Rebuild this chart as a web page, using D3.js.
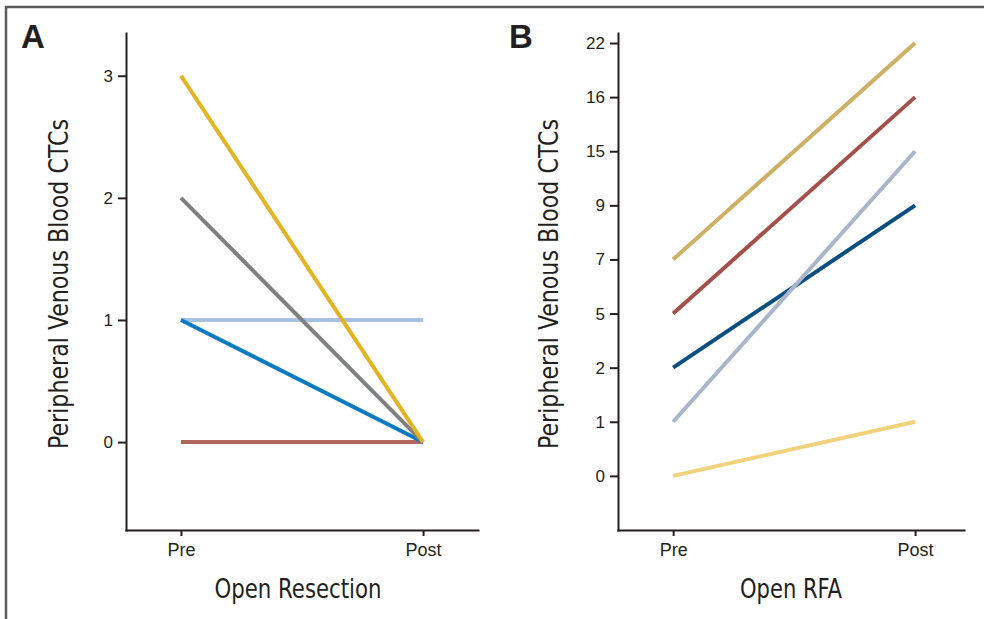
<!DOCTYPE html>
<meta charset="utf-8">
<style>
body { margin: 0; background: #fff; }
svg { display: block; }
.axis path, .axis line { stroke: #231f20; stroke-width: 2px; }
.title { font-family: "Liberation Sans Narrow", "DejaVu Sans Condensed", sans-serif; fill: #231f20; }
</style>
<svg width="984" height="619"></svg>
<script src="https://d3js.org/d3.v7.min.js"></script>
<script>
// ---- data ----
var phases = ['Pre', 'Post']

// panel A: open resection, CTC counts pre -> post
var resectionPre = [0, 0, 1, 1, 2, 3]
var resectionPost = [0, 0, 1, 0, 0, 0]
var resectionColors = ['#a3b48c', '#b0665a', '#a6c1e2', '#0b7bc1', '#7f8082', '#e4b320']
var resectionTicks = [0, 1, 2, 3]

// panel B: open RFA, the y axis is an ordered list of counts
var rfaLevels = [0, 1, 2, 5, 7, 9, 15, 16, 22]
var rfaPre = [2, 1, 0, 5, 7]
var rfaPost = [9, 15, 1, 16, 22]
var rfaColors = ['#0b4f80', '#a8b5cb', '#f1d27c', '#a4504a', '#cdb063']

var svg = d3.select('svg')

// frame round the figure
svg.append('rect')
  .attr('x', 6).attr('y', 7)
  .attr('width', 1100).attr('height', 700)
  .attr('fill', 'none')
  .attr('stroke', '#5a5a5a')
  .attr('stroke-width', 2.5)

var plotTop = 33, plotBottom = 530

function drawPanel(opts) {
  var g = svg.append('g')

  var x = d3.scalePoint()
    .domain(phases)
    .range([opts.left, opts.right])
    .padding(opts.padding)
    .align(opts.align)

  var y = opts.y

  // lines first, axes on top
  var lineGroup = g.append('g')
  opts.pre.forEach(function (v, i) {
    lineGroup.append('line')
      .attr('x1', x('Pre'))
      .attr('y1', y(opts.val(v)))
      .attr('x2', x('Post'))
      .attr('y2', y(opts.val(opts.post[i])))
      .attr('stroke', opts.colors[i])
      .attr('stroke-width', 4)
  })

  var yAxis = g.append('g')
    .attr('class', 'axis')
    .attr('transform', 'translate(' + opts.left + ',0)')
    .call(d3.axisLeft(y)
      .tickValues(opts.tickValues)
      .tickFormat(opts.tickFormat)
      .tickSize(8)
      .tickSizeOuter(0)
      .tickPadding(5))
  yAxis.selectAll('.tick text')
    .style('font-family', '"Liberation Sans", Arial, sans-serif')
    .style('font-size', '17px')
    .style('fill', '#231f20')

  var xAxis = g.append('g')
    .attr('class', 'axis')
    .attr('transform', 'translate(0,' + plotBottom + ')')
    .call(d3.axisBottom(x).tickSize(6).tickSizeOuter(0).tickPadding(7))
  xAxis.selectAll('.tick text')
    .style('font-family', '"Liberation Sans", Arial, sans-serif')
    .style('font-size', '18px')
    .style('fill', '#231f20')

  g.selectAll('.axis .domain').attr('stroke-linecap', 'square')

  // y axis title
  g.append('text')
    .attr('class', 'title')
    .attr('transform', 'translate(' + opts.yTitleX + ',284) rotate(-90)')
    .attr('text-anchor', 'middle')
    .attr('font-size', 26)
    .attr('textLength', 330)
    .attr('lengthAdjust', 'spacingAndGlyphs')
    .text('Peripheral Venous Blood CTCs')

  // x axis title
  g.append('text')
    .attr('class', 'title')
    .attr('x', opts.xTitleX)
    .attr('y', 598)
    .attr('text-anchor', 'middle')
    .attr('font-size', 27)
    .attr('textLength', opts.xTitleLen)
    .attr('lengthAdjust', 'spacingAndGlyphs')
    .text(opts.xTitle)

  // panel letter
  g.append('text')
    .attr('x', opts.letterX)
    .attr('y', 48)
    .attr('font-family', '"Liberation Sans", Arial, sans-serif')
    .attr('font-weight', 'bold')
    .attr('font-size', 33)
    .attr('fill', '#231f20')
    .text(opts.letter)
}

var yA = d3.scaleLinear().domain([-0.72, 3.35]).range([plotBottom, plotTop])
drawPanel({
  left: 126, right: 478, padding: 0.227, align: 0.5,
  y: yA,
  val: function (v) { return v },
  pre: resectionPre, post: resectionPost, colors: resectionColors,
  tickValues: resectionTicks, tickFormat: d3.format('d'),
  yTitleX: 68, xTitleX: 298, xTitleLen: 167, xTitle: 'Open Resection',
  letterX: 21, letter: 'A'
})

// panel B uses the position of each count in rfaLevels
var yB = d3.scaleLinear().domain([-1, rfaLevels.length - 1 + 0.185]).range([plotBottom, plotTop])
drawPanel({
  left: 618, right: 964, padding: 0.215, align: 0.53,
  y: yB,
  val: function (v) { return rfaLevels.indexOf(v) },
  pre: rfaPre, post: rfaPost, colors: rfaColors,
  tickValues: d3.range(rfaLevels.length),
  tickFormat: function (i) { return rfaLevels[i] },
  yTitleX: 558, xTitleX: 791, xTitleLen: 102, xTitle: 'Open RFA',
  letterX: 509, letter: 'B'
})
</script>
